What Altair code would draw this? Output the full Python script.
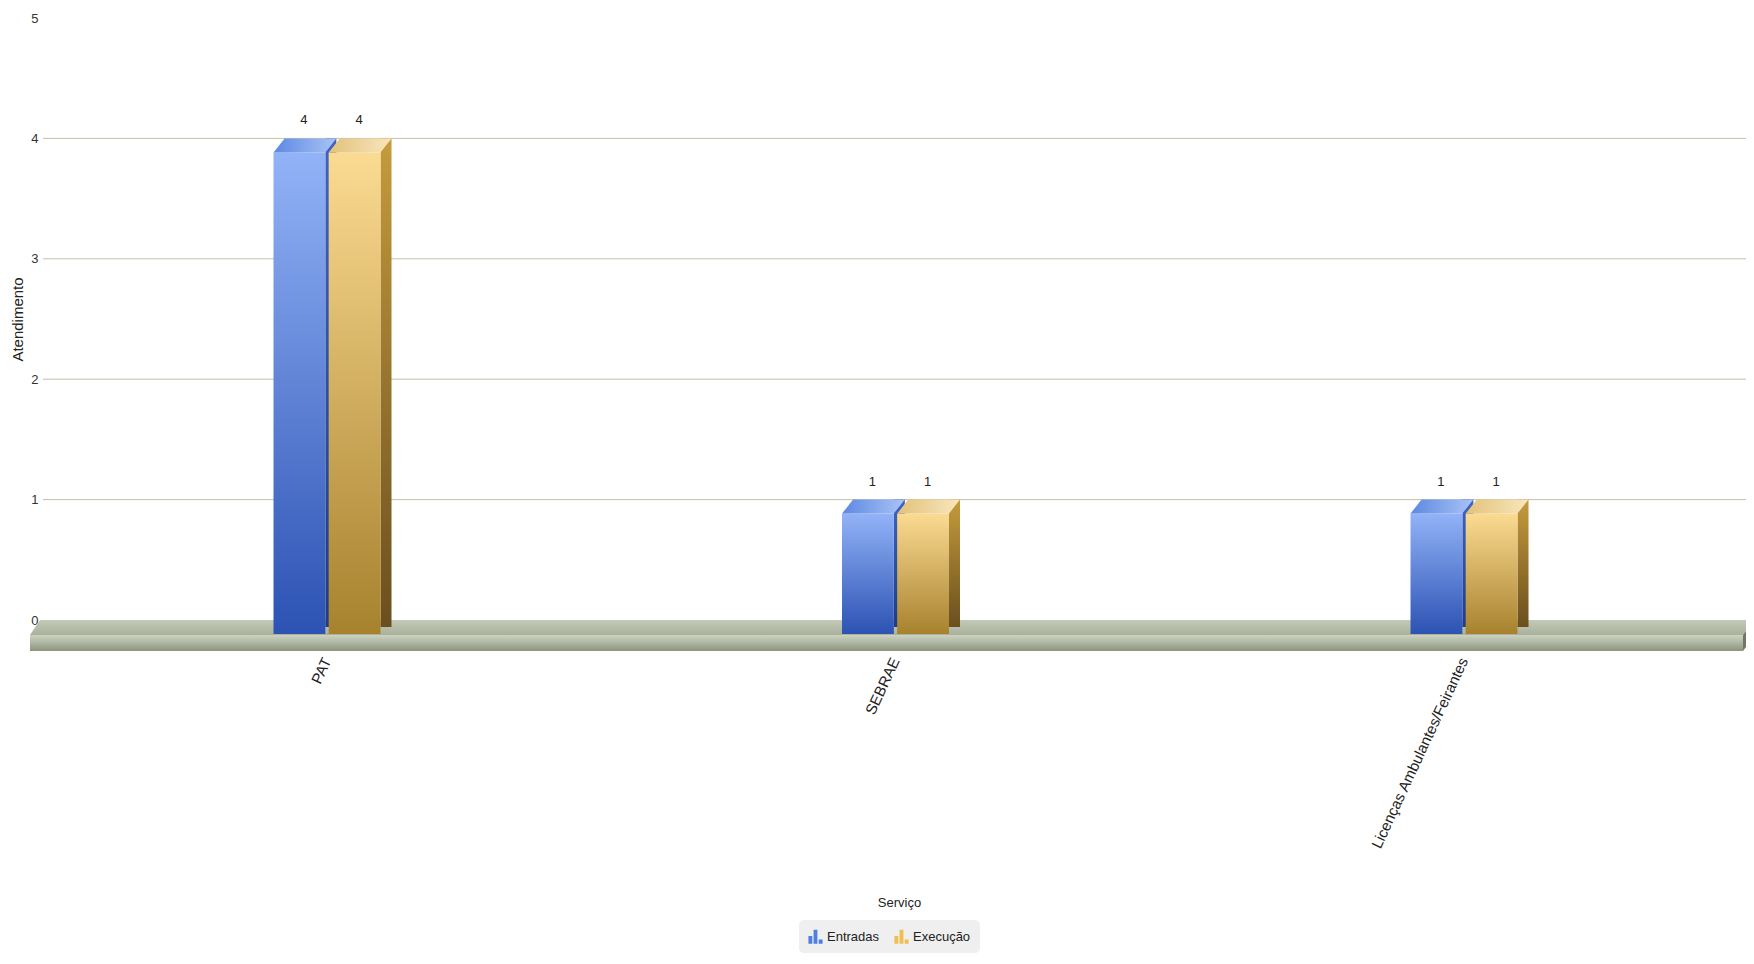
import altair as alt
import pandas as pd

# ---- data ----
categorias = ["PAT", "SEBRAE", "Licenças Ambulantes/Feirantes"]
series = ["Entradas", "Execução"]
entradas = [4, 1, 1]
execucao = [4, 1, 1]
y_ticks = [0, 1, 2, 3, 4, 5]
grid_values = [1, 2, 3, 4]

rows = []
for c, v in zip(categorias, entradas):
    rows.append({"servico": c, "serie": "Entradas", "valor": v})
for c, v in zip(categorias, execucao):
    rows.append({"servico": c, "serie": "Execução", "valor": v})
df = pd.DataFrame(rows)
floor_df = pd.DataFrame({"base": [0]})
grid_df = pd.DataFrame({"valor": grid_values})

W, H = 1700, 602
FONT = "Liberation Sans"


def vgrad(c1, c2):
    return alt.Gradient(gradient="linear", x1=0, y1=0, x2=0, y2=1,
                        stops=[alt.GradientStop(color=c1, offset=0),
                               alt.GradientStop(color=c2, offset=1)])


def hgrad(c1, c2):
    return alt.Gradient(gradient="linear", x1=0, y1=0, x2=1, y2=0,
                        stops=[alt.GradientStop(color=c1, offset=0),
                               alt.GradientStop(color=c2, offset=1)])


x_enc = alt.X("servico:N", sort=categorias, title="Serviço",
              scale=alt.Scale(domain=categorias, paddingInner=0.8118,
                              paddingOuter=0.40105, align=0.5055),
              axis=alt.Axis(labelAngle=-65, labelAlign="right", labelBaseline="middle",
                            labelPadding=38, labelFontSize=15, labelFont=FONT,
                            labelColor="#222222", labelLimit=0, domain=False, ticks=False,
                            grid=False,
                            titleFont=FONT, titleFontSize=13, titleFontWeight="normal",
                            titleColor="#222222", titleBaseline="middle", titleY=282,
                            titleX=W / 2 + 6))
xo_enc = alt.XOffset("serie:N", sort=series,
                     scale=alt.Scale(domain=series, paddingInner=0.06, paddingOuter=0))
y_enc = alt.Y("valor:Q", title="Atendimento",
              scale=alt.Scale(domain=[0, 5], nice=False, zero=True),
              axis=alt.Axis(values=y_ticks, format="d", ticks=False, domain=False,
                            grid=False,
                            labelFontSize=13, labelFont=FONT, labelColor="#333333",
                            labelPadding=5,
                            titleFont=FONT, titleFontSize=15, titleFontWeight="normal",
                            titleColor="#222222", titleX=-26, titleY=301,
                            titleAlign="center", titleBaseline="middle"))

# ---- gridlines ----
grid = alt.Chart(grid_df).mark_rule(color="#c3c0a9", strokeWidth=1).encode(
    y=y_enc, x=alt.value(0), x2=alt.value(W + 8))

# ---- floor (3D base) ----
floor_top = alt.Chart(floor_df).mark_point(
    shape="M -3 0 L 1711 0 L 1700 15 L -13 15 Z", size=4, filled=True, opacity=1,
    strokeWidth=0, fill=vgrad("#c3cab7", "#a9b19d")
).encode(x=alt.value(0), y=alt.datum(0))
floor_front = alt.Chart(floor_df).mark_point(
    shape="M -13 15 L 1700 15 L 1700 31 L -13 31 Z", size=4, filled=True, opacity=1,
    strokeWidth=0, fill=vgrad("#cdd3c1", "#8c947f")
).encode(x=alt.value(0), y=alt.datum(0))
floor_side = alt.Chart(floor_df).mark_point(
    shape="M 1700 15 L 1711 0 L 1711 16 L 1700 31 Z", size=4, filled=True, opacity=1,
    strokeWidth=0, fill="#6f7865"
).encode(x=alt.value(0), y=alt.datum(0))

# ---- bars ----
styles = {
    "Entradas": {
        "front": vgrad("#92b3f7", "#2c52b3"),
        "side": vgrad("#3d63c4", "#1d3c8a"),
        "top": hgrad("#5d88e2", "#a9c3f6"),
        "side_shift": 3.85,
    },
    "Execução": {
        "front": vgrad("#fbdb92", "#a7822e"),
        "side": vgrad("#c59b3d", "#6a4f1e"),
        "top": hgrad("#e2c27a", "#f8e6bd"),
        "side_shift": 59.0,
    },
}

TOP_PATH = "M -25.9 14 L 25.9 14 L 36.9 0 L -14.9 0 Z"

sides, fronts, tops = [], [], []
for s in series:
    base = alt.Chart(df).transform_filter(alt.datum.serie == s)
    sides.append(base.mark_bar(width=11, xOffset=styles[s]["side_shift"], y2Offset=7,
                               strokeWidth=0, fill=styles[s]["side"])
                 .encode(x=x_enc, y=y_enc, y2=alt.datum(0)))
    fronts.append(base.mark_bar(yOffset=14, y2Offset=14, strokeWidth=0,
                                fill=styles[s]["front"])
                  .encode(x=x_enc, xOffset=xo_enc, y=y_enc, y2=alt.datum(0)))
    tops.append(base.mark_point(shape=TOP_PATH, size=4, filled=True, opacity=1,
                                strokeWidth=0, fill=styles[s]["top"])
                .encode(x=x_enc, xOffset=xo_enc, y=y_enc))

labels = alt.Chart(df).mark_text(dx=4.5, dy=-18, fontSize=13, font=FONT,
                                 color="#222222").encode(
    x=x_enc, xOffset=xo_enc, y=y_enc, text=alt.Text("valor:Q", format="d"))

ICON = ("M -1 1 L -1 -0.1 L -0.45 -0.1 L -0.45 1 Z "
        "M -0.27 1 L -0.27 -1 L 0.27 -1 L 0.27 1 Z "
        "M 0.45 1 L 0.45 0.4 L 1 0.4 L 1 1 Z")

legend_layer = alt.Chart(df).mark_point(filled=True, opacity=0).encode(
    x=x_enc, xOffset=xo_enc, y=y_enc,
    color=alt.Color("serie:N", sort=series,
                    scale=alt.Scale(domain=series, range=["#4f7fe0", "#f0be50"]),
                    legend=alt.Legend(orient="none", legendX=756, legendY=902,
                                      direction="horizontal", title=None,
                                      fillColor="#efefef", cornerRadius=5, padding=9,
                                      symbolType=ICON, symbolSize=200, symbolOpacity=1,
                                      symbolStrokeWidth=0, labelFontSize=13,
                                      labelFont=FONT, labelColor="#222222",
                                      columnPadding=14, labelOffset=4)))

chart = alt.layer(
    grid, floor_top, floor_front, floor_side, *sides, *fronts, *tops, labels, legend_layer
).properties(
    width=W, height=H,
    padding={"left": 35, "top": 10, "right": 3, "bottom": 336},
    autosize=alt.AutoSizeParams(type="none"),
    background="white",
).configure_view(stroke=None)

chart.save("out.html", embed_options={"renderer": "svg", "actions": False})
